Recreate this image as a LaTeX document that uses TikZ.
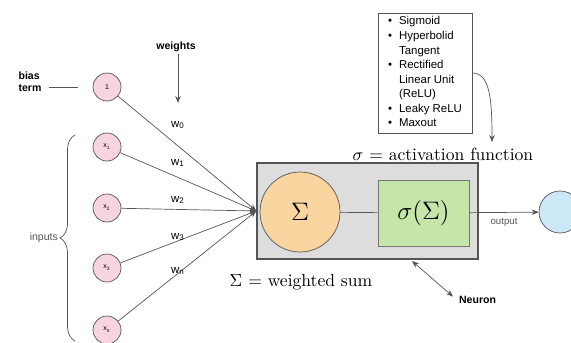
\documentclass[tikz,border=0pt]{standalone}
\usepackage{fontspec}
\newfontfamily\lblfont{Liberation Sans}
\usetikzlibrary{arrows.meta,positioning,decorations.pathreplacing}
\definecolor{edgegray}{RGB}{85,85,85}
\definecolor{inpink}{RGB}{247,212,225}
\definecolor{sumorange}{RGB}{249,213,160}
\definecolor{actgreen}{RGB}{198,229,168}
\definecolor{boxgray}{RGB}{221,221,221}
\definecolor{outblue}{RGB}{205,233,248}

\begin{document}
\begin{tikzpicture}[x=0.02cm, y=-0.02cm, >={Stealth[length=1.4mm, width=1.1mm]},
  inp/.style={circle, draw=edgegray, fill=inpink, minimum size=0.56cm, inner sep=0pt,
              font=\lblfont\fontsize{4}{4}\selectfont},
  lbl/.style={font=\lblfont\fontsize{6}{7}\selectfont, inner sep=1pt},
  lblb/.style={font=\lblfont\bfseries\fontsize{6}{7}\selectfont, inner sep=1pt, align=left},
  wt/.style={font=\lblfont\fontsize{6.5}{7}\selectfont, inner sep=0pt},
  wire/.style={draw=edgegray, ->},
  neuron/.style={rectangle, draw=edgegray, fill=boxgray, thick,
                 minimum width=4.42cm, minimum height=1.92cm},
  sumc/.style={circle, draw=edgegray, fill=sumorange, minimum size=1.6cm, inner sep=0pt,
               font=\Large},
  act/.style={rectangle, draw=edgegray!80, fill=actgreen, minimum width=1.82cm,
              minimum height=1.32cm, font=\Large},
  outc/.style={circle, draw=edgegray, fill=outblue, minimum size=0.84cm},
  listbox/.style={rectangle, draw=edgegray, fill=white, minimum width=1.88cm,
                  minimum height=2.4cm, inner sep=1pt,
                  font=\lblfont\fontsize{6.5}{8.3}\selectfont}]
  \useasboundingbox (0,0) rectangle (571,342);

  \node[lblb] (biaslbl) at (30,82) {bias\\term};
  \node[lblb] (wlbl) at (176,47) {weights};
  \coordinate (wtip) at (178,103);
  \draw[->, edgegray] (wlbl.south -| wtip) -- (wtip);

  \node[inp] (b) at (107,87) {1};
  \node[inp] (x1) at (107,147) {x\textsubscript{1}};
  \node[inp] (x2) at (107,208) {x\textsubscript{2}};
  \node[inp] (x3) at (107,268) {x\textsubscript{3}};
  \node[inp] (xn) at (107,330) {x\textsubscript{n}};
  \draw[edgegray, shorten <=3pt, shorten >=8.5pt] (biaslbl.east |- b) -- (b.west);

  \draw[decorate, decoration={brace, amplitude=0.3cm}, edgegray]
    (75,341) -- node[lbl, left=0.3cm] (inlbl) {inputs} (75,135);

  \node[neuron] (nbox) at (367.5,211) {};
  \node[sumc] (sum) at (300,212) {$\Sigma$};
  \node[act] (act) at (423.5,213) {$\sigma(\Sigma)$};
  \draw[edgegray] (sum) -- (act);

  \draw[wire] (b) -- (nbox.west);
  \draw[wire] (x1) -- (nbox.west);
  \draw[wire] (x2) -- (nbox.west);
  \draw[wire] (x3) -- (nbox.west);
  \draw[wire] (xn) -- (nbox.west);
  \node[wt] (w0) at (178,125) {w\textsubscript{0}};
  \node[wt] (w1) at (178,163) {w\textsubscript{1}};
  \node[wt] (w2) at (178,200) {w\textsubscript{2}};
  \node[wt] (w3) at (178,237) {w\textsubscript{3}};
  \node[wt] (wn) at (178,271) {w\textsubscript{n}};

  \node[outc] (out) at (560,212) {};
  \draw[->, edgegray] (act) -- node[lbl, below=2pt, font=\lblfont\fontsize{5.5}{6}\selectfont] (outlbl) {output} (out);

  \node (actlbl) at (443,154) {$\sigma$ = activation function};
  \node (sumlbl) at (301,282) {$\Sigma$ = weighted sum};

  \node[lblb, anchor=west] (nlbl) at (457,300) {Neuron};
  \coordinate (ntip) at (412,261);
  \draw[<->, edgegray, shorten >=3pt] (ntip) -- (nlbl.west);

  \node[listbox] (funcs) at (425,73) {\begin{tabular}{@{}c@{\hskip 4pt}l@{}}
    \textbullet & Sigmoid\\
    \textbullet & Hyperbolid\\
                & Tangent\\
    \textbullet & Rectified\\
                & Linear Unit\\
                & (ReLU)\\
    \textbullet & Leaky ReLU\\
    \textbullet & Maxout
  \end{tabular}};
  \coordinate (actin) at (492,142);
  \draw[->, edgegray] (funcs.east) .. controls (490,73) and (492,100) .. (actin);
\end{tikzpicture}
\end{document}
